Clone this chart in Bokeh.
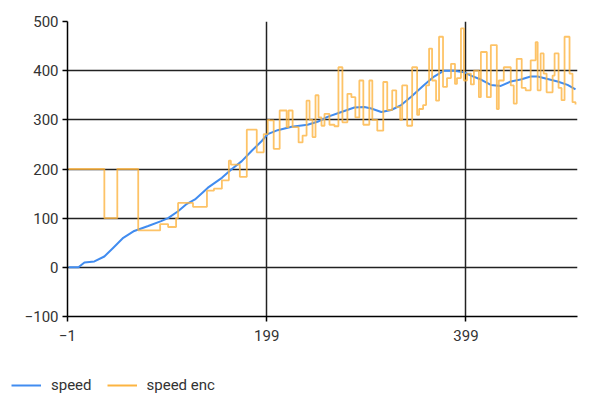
from bokeh.plotting import figure
from bokeh.models import FixedTicker, Legend, LegendItem, Range1d
from bokeh.layouts import column, row
from bokeh.embed import file_html
from bokeh.resources import INLINE

# speed (smooth)
speed_x = [0, 10, 16, 26, 36, 45, 55, 66, 80, 93, 100, 110, 118, 127, 140, 154, 164, 174, 184,
           194, 200, 210, 224, 240, 250, 260, 274, 287, 297, 304, 314, 324, 334, 344, 357, 367,
           377, 387, 397, 404, 414, 424, 434, 444, 454, 464, 471, 481, 491, 501, 509]
speed_y = [0, 0, 10, 12, 22, 40, 60, 74, 84, 94, 100, 114, 128, 138, 162, 182, 200, 216, 237,
           257, 271, 279, 286, 290, 296, 306, 316, 325, 326, 323, 316, 320, 330, 347, 371, 388,
           400, 400, 397, 390, 382, 371, 369, 378, 382, 388, 388, 383, 378, 371, 362]

# speed enc (stepped encoder reading)
enc_x = [0, 36, 49, 70, 92, 100, 108, 110, 125, 139, 146, 154, 161, 163, 172, 179, 189, 196,
         200, 202, 206, 212, 219, 221, 225, 231, 235, 239, 242, 245, 248, 251, 254, 257, 262,
         267, 271, 275, 280, 284, 288, 292, 296, 302, 305, 310, 316, 320, 325, 329, 333, 335,
         340, 345, 350, 352, 356, 359, 362, 365, 369, 372, 376, 380, 384, 388, 390, 394, 397,
         400, 404, 407, 412, 414, 420, 424, 430, 432, 437, 444, 447, 450, 455, 459, 464, 469,
         471, 474, 477, 480, 486, 488, 492, 495, 498, 503, 506, 509]
enc_y = [200, 100, 200, 75, 88, 82, 100, 131, 123, 156, 160, 177, 217, 209, 184, 280, 234, 271,
         300, 299, 241, 319, 285, 319, 285, 254, 268, 339, 300, 265, 350, 305, 288, 312, 290,
         287, 407, 295, 353, 346, 305, 380, 290, 380, 300, 278, 377, 320, 360, 326, 300, 370,
         288, 407, 310, 322, 330, 370, 445, 380, 339, 469, 367, 385, 414, 373, 385, 486, 380,
         394, 372, 400, 346, 438, 346, 452, 322, 380, 407, 370, 333, 424, 365, 360, 421, 458,
         360, 435, 394, 356, 390, 435, 365, 340, 469, 394, 336, 331]

x_ticks = [-1, 199, 399]
y_ticks = [-100, 0, 100, 200, 300, 400, 500]
series_names = ["speed", "speed enc"]
series_colors = ["#418CF0", "#FCB441"]

p = figure(width=583, height=360, output_backend="svg", toolbar_location=None,
           x_range=Range1d(-1, 511), y_range=Range1d(-100, 500),
           min_border_left=67, min_border_right=6, min_border_top=21, min_border_bottom=44)
p.outline_line_color = None

p.line(speed_x, speed_y, line_color=series_colors[0], line_width=2)
p.step(enc_x, enc_y, mode="after", line_color=series_colors[1], line_width=1.8, line_alpha=0.8)

p.xaxis.ticker = FixedTicker(ticks=x_ticks)
p.yaxis.ticker = FixedTicker(ticks=y_ticks)
for ax in [p.xaxis, p.yaxis]:
    ax.axis_line_color = "black"
    ax.axis_line_width = 1.5
    ax.major_tick_line_color = "black"
    ax.major_tick_line_width = 1.5
    ax.major_tick_out = 5
    ax.major_tick_in = 0
    ax.minor_tick_line_color = None
    ax.major_label_text_font = "Roboto"
    ax.major_label_text_font_size = "15px"
    ax.major_label_text_color = "#333333"
    ax.major_label_standoff = 4
p.xaxis.major_label_standoff = 8

p.grid.grid_line_color = "#222222"
p.grid.grid_line_width = 1.5
p.xgrid.ticker = FixedTicker(ticks=x_ticks)
p.ygrid.ticker = FixedTicker(ticks=y_ticks)

# legend strip under the chart (placeholder lines with no visible points)
legendPlot = figure(width=583, height=40, output_backend="svg", toolbar_location=None,
                    x_axis_location=None, y_axis_location=None, min_border=0,
                    x_range=Range1d(0, 1), y_range=Range1d(0, 1))
legendPlot.grid.visible = False
legendPlot.outline_line_color = None
items = []
for name, color in zip(series_names, series_colors):
    r = legendPlot.line([float("nan")], [float("nan")], line_color=color, line_width=2)
    items.append(LegendItem(label=name, renderers=[r]))
legend = Legend(items=items, orientation="horizontal", location=(11, 5))
legend.border_line_color = None
legend.background_fill_alpha = 0
legend.padding = 4
legend.margin = 0
legend.spacing = 15
legend.glyph_width = 30
legend.label_standoff = 10
legend.label_text_font = "Roboto"
legend.label_text_font_size = "15px"
legend.label_text_color = "#333333"
legendPlot.add_layout(legend)

open("out.html", "w").write(file_html(column(p, row(legendPlot)), INLINE))
